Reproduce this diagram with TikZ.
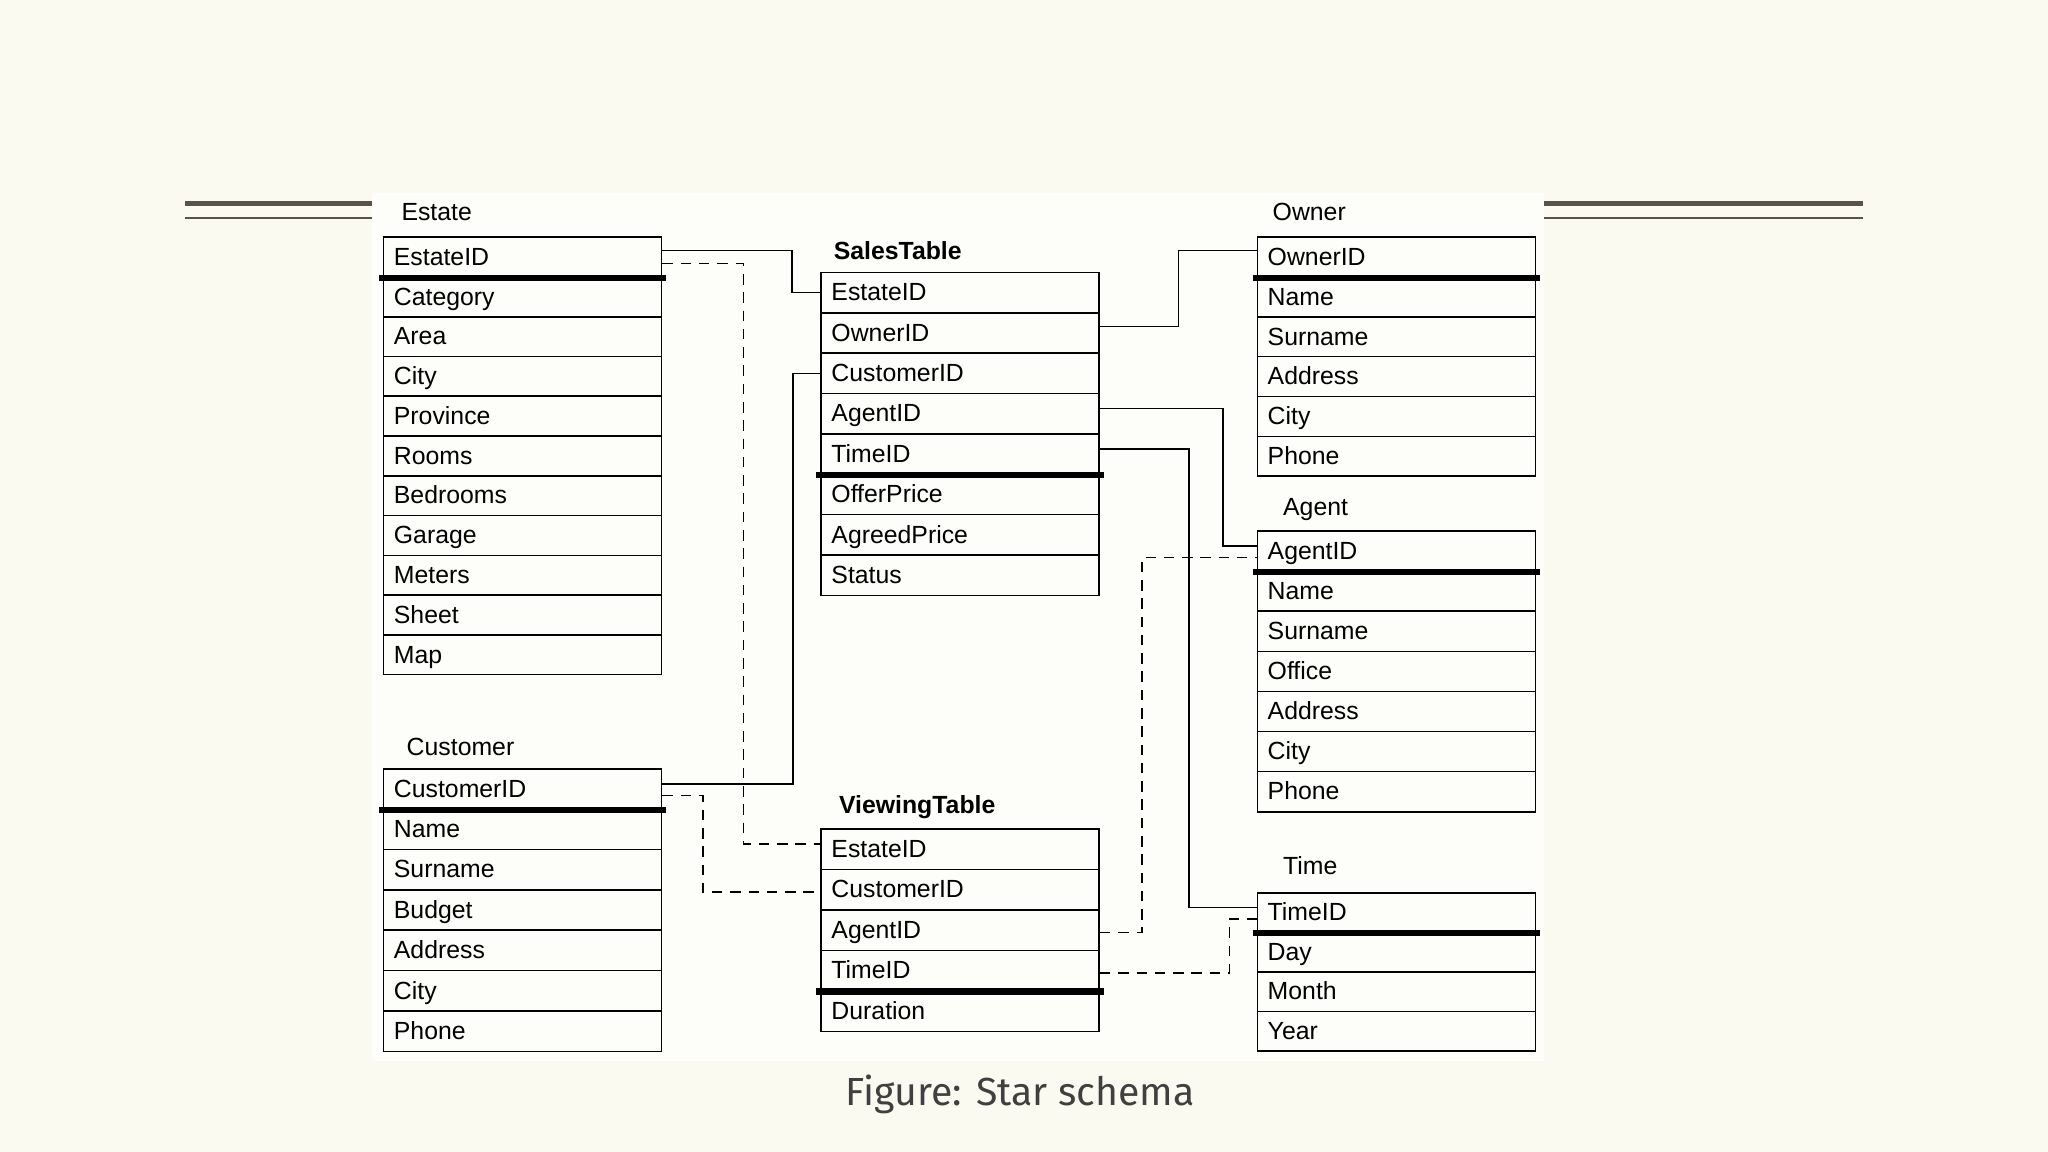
\documentclass[tikz,border=0pt]{standalone}
\usepackage{fontspec}
\setmainfont{Liberation Sans}
\newfontfamily\capfont{Fira Sans}
\definecolor{bg}{HTML}{FBFAF0}
\definecolor{deco}{HTML}{58524A}
\begin{document}
\begin{tikzpicture}[x=0.5pt,y=-0.5pt,
  row/.style={draw, anchor=north west, text width=98.5pt, inner xsep=4pt, inner ysep=0pt, align=left, text height=1.6ex, text depth=0.4ex, font=\fontsize{9.5}{11}\selectfont, line width=0.6pt},
  ttl/.style={anchor=west, font=\fontsize{9.5}{11}\selectfont, inner sep=0pt},
  bttl/.style={ttl, font=\fontsize{9.5}{11}\selectfont\bfseries},
  keyline/.style={line width=2.4pt},
  link/.style={line width=0.6pt},
  dlink/.style={line width=0.6pt, dash pattern=on 4pt off 3pt}]
\newcommand\mktable[6]{%
  \foreach \t [count=\i from 0] in {#6} {
    \node[row, minimum height=#4*0.5pt] (#1\i) at (#2, {#3+\i*#4}) {\t};
  }
  \draw[keyline] ([xshift=-1.5pt]#1#5.south west) -- ([xshift=1.5pt]#1#5.south east);
}
\fill[bg] (0,0) rectangle (1568,882);
\useasboundingbox (0,0) rectangle (1568,882);
\fill[white!60!bg] (285,148) rectangle (1182,812);
% decorative lines
\draw[deco, line width=2pt] (142,156) -- (285,156);
\draw[deco, line width=0.8pt] (142,167) -- (285,167);
\draw[deco, line width=2pt] (1182,156) -- (1426,156);
\draw[deco, line width=0.8pt] (1182,167) -- (1426,167);
% tables
\mktable{est}{293}{181}{30.45}{0}{EstateID,Category,Area,City,Province,Rooms,Bedrooms,Garage,Meters,Sheet,Map}
\node[ttl] (testate) at (307,162) {Estate};
\mktable{sal}{628}{208}{30.9}{4}{EstateID,OwnerID,CustomerID,AgentID,TimeID,OfferPrice,AgreedPrice,Status}
\node[bttl] (tsales) at (638,192) {SalesTable};
\mktable{own}{962}{181}{30.5}{0}{OwnerID,Name,Surname,Address,City,Phone}
\node[ttl] (towner) at (974,162) {Owner};
\mktable{agt}{962}{406}{30.7}{0}{AgentID,Name,Surname,Office,Address,City,Phone}
\node[ttl] (tagent) at (982,390) {Agent};
\mktable{cus}{293}{588}{30.9}{0}{CustomerID,Name,Surname,Budget,Address,City,Phone}
\node[ttl] (tcust) at (311,572) {Customer};
\mktable{vie}{628}{634}{31}{3}{EstateID,CustomerID,AgentID,TimeID,Duration}
\node[bttl] (tview) at (642,618) {ViewingTable};
\mktable{tim}{962}{683}{30.25}{0}{TimeID,Day,Month,Year}
\node[ttl] (ttime) at (982,663) {Time};
% solid links
\draw[link] ([yshift=2.5pt]est0.east) -- ++(49.5pt,0) |- (sal0.west);
\draw[link] ([yshift=2.5pt]sal1.east) -- ++(30pt,0) |- ([yshift=2.5pt]own0.west);
\draw[link] ([yshift=2pt]cus0.east) -- ++(50pt,0) |- (sal2.west);
\draw[link] ([yshift=2pt]sal3.east) -- ++(47pt,0) |- ([yshift=2pt]agt0.west);
\draw[link] ([yshift=2pt]sal4.east) -- ++(34pt,0) |- ([yshift=2pt]tim0.west);
% dashed links
\draw[dlink] ([yshift=-2.5pt]est0.east) -- ++(31pt,0) |- ([yshift=2pt]vie0.west);
\draw[dlink] ([yshift=-2.5pt]cus0.east) -- ++(15.5pt,0) |- ([yshift=-1pt]vie1.west);
\draw[dlink] ([yshift=-1pt]vie2.east) -- ++(16pt,0) |- ([yshift=-2.5pt]agt0.west);
\draw[dlink] ([yshift=-1pt]vie3.east) -- ++(49.5pt,0) |- ([yshift=-2.5pt]tim0.west);
% caption
\node[font=\capfont\fontsize{15}{18}\selectfont, text=black!75] (cap) at (781,838) {Figure: Star schema};
\end{tikzpicture}
\end{document}
